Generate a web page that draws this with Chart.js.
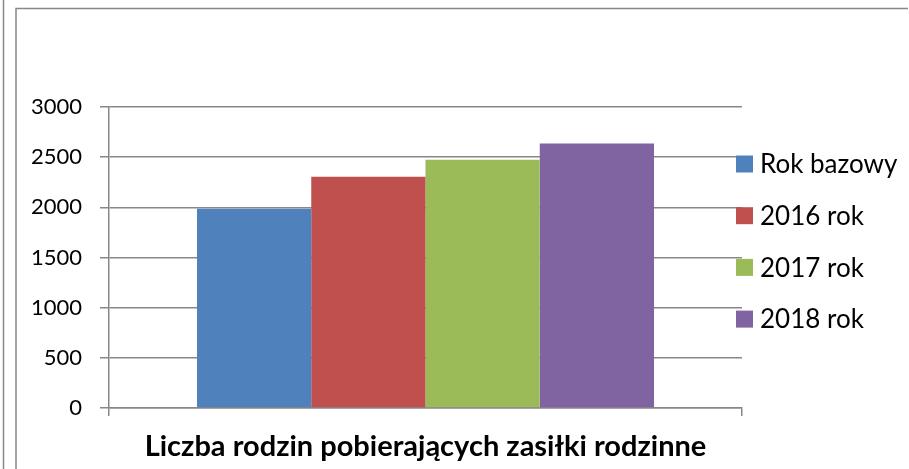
<!DOCTYPE html>
<html lang="pl">
  <head>
    <meta charset="UTF-8" />
    <title>Liczba rodzin pobierających zasiłki rodzinne</title>
    <script src="https://cdn.jsdelivr.net/npm/chart.js"></script>
    <style>
        html, body { margin: 0; padding: 0; background: #fff; }
        #chart { display: block; }
    </style>
  </head>
  <body>
    <canvas id="chart" width="909" height="469"></canvas>

    <script>
        // chart data
        const categories = ['Liczba rodzin pobierających zasiłki rodzinne'];
        const seriesLabels = ['Rok bazowy', '2016 rok', '2017 rok', '2018 rok'];
        const seriesValues = [1985, 2305, 2475, 2635];
        const seriesColors = ['#4F81BD', '#C0504D', '#9BBB59', '#8064A2'];
        const yTicks = [0, 500, 1000, 1500, 2000, 2500, 3000];

        const fontFamily = 'Lato, "Open Sans", sans-serif';
        const lineGray = '#878787';

        // frame lines around the chart object
        const framePlugin = {
            id: 'frame',
            beforeDraw(chart) {
                const ctx = chart.ctx;
                ctx.save();
                ctx.fillStyle = '#fff';
                ctx.fillRect(0, 0, chart.width, chart.height);
                ctx.strokeStyle = lineGray;
                ctx.lineWidth = 1.5;
                ctx.beginPath();
                ctx.moveTo(3.5, 0);
                ctx.lineTo(3.5, chart.height);
                ctx.moveTo(16, chart.height);
                ctx.lineTo(16, 8.5);
                ctx.lineTo(908, 8.5);
                ctx.stroke();
                ctx.restore();
            }
        };

        // legend drawn to the right, like the original spreadsheet chart
        const sideLegend = {
            id: 'sideLegend',
            afterDraw(chart) {
                const ctx = chart.ctx;
                ctx.save();
                ctx.font = '26px ' + fontFamily;
                ctx.textBaseline = 'middle';
                chart.data.datasets.forEach((ds, i) => {
                    const cy = 164 + i * 51.7;
                    ctx.fillStyle = ds.backgroundColor;
                    ctx.fillRect(736, cy - 8.5, 17, 17);
                    ctx.fillStyle = '#000';
                    ctx.fillText(ds.label, 760, cy + 1);
                });
                ctx.restore();
            }
        };

        const ctx = document.getElementById('chart').getContext('2d');
        new Chart(ctx, {
            type: 'bar',
            data: {
                labels: categories,
                datasets: seriesLabels.map((label, i) => ({
                    label: label,
                    data: [seriesValues[i]],
                    backgroundColor: seriesColors[i],
                    borderWidth: 0,
                    categoryPercentage: 0.722,
                    barPercentage: 1.0
                }))
            },
            options: {
                responsive: false,
                animation: false,
                layout: {
                    padding: { left: 0, top: 107, right: 167, bottom: 0 }
                },
                plugins: {
                    legend: { display: false },
                    tooltip: { enabled: false }
                },
                scales: {
                    x: {
                        afterFit(scale) { scale.height = 61; },
                        grid: {
                            offset: true,
                            drawOnChartArea: false,
                            drawTicks: true,
                            tickLength: 8,
                            color: lineGray,
                            lineWidth: 1.5
                        },
                        border: { color: lineGray, width: 1.5 },
                        ticks: {
                            color: '#000',
                            padding: 13,
                            font: { family: fontFamily, size: 29, weight: 'bold' }
                        }
                    },
                    y: {
                        min: 0,
                        max: 3000,
                        afterFit(scale) { scale.width = 109; },
                        afterBuildTicks(scale) {
                            scale.ticks = yTicks.map(v => ({ value: v }));
                        },
                        grid: {
                            color: lineGray,
                            lineWidth: 1.5,
                            tickLength: 9
                        },
                        border: { color: lineGray, width: 1.5 },
                        ticks: {
                            color: '#000',
                            padding: 18,
                            callback: v => String(v),
                            font: { family: fontFamily, size: 22 }
                        }
                    }
                }
            },
            plugins: [framePlugin, sideLegend]
        });
    </script>
  </body>
</html>
